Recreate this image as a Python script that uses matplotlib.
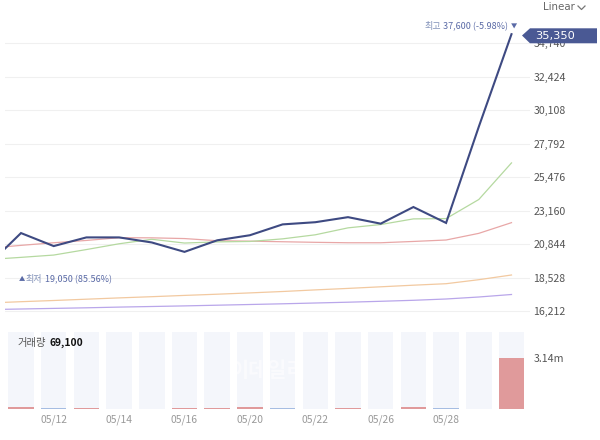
import matplotlib
matplotlib.use("Agg")
import matplotlib.pyplot as plt
from matplotlib.patches import Polygon

plt.rcParams['font.family'] = ['Noto Sans CJK KR', 'DejaVu Sans']

# ---------------- data ----------------
dates = ['05/08', '05/09', '05/12', '05/13', '05/14', '05/15', '05/16', '05/19', '05/20',
         '05/21', '05/22', '05/23', '05/26', '05/27', '05/28', '05/29', '05/30']
close = [19400, 21600, 20700, 21300, 21300, 20950, 20300, 21100, 21450,
         22200, 22350, 22700, 22250, 23400, 22300, 28950, 35350]
ma5 = [19770, 19920, 20080, 20460, 20860, 21170, 20910, 20990, 21020,
       21200, 21480, 21960, 22190, 22580, 22600, 23920, 26450]
ma20 = [20550, 20750, 20930, 21090, 21280, 21270, 21220, 21070, 21040,
        21000, 20960, 20930, 20930, 21020, 21120, 21580, 22320]
ma60 = [16765, 16855, 16938, 17028, 17118, 17201, 17290, 17373, 17463,
        17560, 17671, 17774, 17885, 17996, 18099, 18376, 18701]
ma120 = [16309, 16350, 16392, 16433, 16482, 16523, 16565, 16613, 16661,
         16710, 16765, 16820, 16883, 16952, 17042, 17180, 17353]
# volume for slots 1..16
volume = [170000, 100000, 80000, 40000, 40000, 80000, 80000, 120000,
          80000, 40000, 80000, 40000, 120000, 80000, 69100, 3140000]
vol_dir = ['up', 'down', 'up', 'down', 'down', 'up', 'up', 'up',
           'down', 'down', 'up', 'down', 'up', 'down', 'none', 'up']
price_ticks = [16212, 18528, 20844, 23160, 25476, 27792, 30108, 32424, 34740]
date_ticks = ['05/12', '05/14', '05/16', '05/20', '05/22', '05/26', '05/28']
last_price = '35,350'
high_text = '37,600 (-5.98%)'
low_text = '19,050 (85.56%)'
vol_text = '69,100'
vol_max_label = '3.14m'

W, H = 600, 440
fig = plt.figure(figsize=(W / 100, H / 100), dpi=100)


def rect(x0, y0, x1, y1):
    return [x0 / W, 1 - y1 / H, (x1 - x0) / W, (y1 - y0) / H]


def fx(x):
    return x / W


def fy(y):
    return 1 - y / H


slots = list(range(len(dates)))
xlim = (0.511, 16.566)

# ---------------- price panel ----------------
ax = fig.add_axes(rect(5, 20, 530, 320))
ppp = 2316 / 33.5
ax.set_ylim(16212 - 9 * ppp, 16212 + 291 * ppp)
ax.set_xlim(*xlim)
for t in price_ticks:
    ax.axhline(t, color='#f0f0f0', lw=0.8, zorder=0)
ax.plot(slots, ma120, color='#b9a6ea', lw=0.9, zorder=2)
ax.plot(slots, ma60, color='#f2c9a0', lw=0.9, zorder=2)
ax.plot(slots, ma20, color='#e8a7a7', lw=0.9, zorder=2)
ax.plot(slots, ma5, color='#b5d9a0', lw=0.9, zorder=2)
ax.plot(slots, close, color='#3e4a82', lw=1.5, zorder=3, solid_joinstyle='miter')
ax.yaxis.tick_right()
ax.set_yticks(price_ticks)
ax.set_yticklabels([f'{t:,}' for t in price_ticks])
ax.tick_params(axis='y', length=0, pad=2.5, labelsize=7.6, labelcolor='#555555')
ax.set_xticks([])
for s in ax.spines.values():
    s.set_visible(False)

# last price box
poly = Polygon([(fx(522), fy(35.5)), (fx(530), fy(28.3)), (fx(597), fy(28.3)),
                (fx(597), fy(43.3)), (fx(530), fy(43.3))], closed=True,
               transform=fig.transFigure, facecolor='#4a5994', edgecolor='none', zorder=10)
fig.patches.append(poly)
fig.text(fx(535), fy(35.8), last_price, color='white', fontsize=8.2, va='center',
         ha='left', zorder=11, family=['DejaVu Sans'])

# high / low annotations
fig.text(fx(425), fy(27), '최고', color='#8090b8', fontsize=6.5, va='center', ha='left')
fig.text(fx(443), fy(27), high_text, color='#5a6aa6', fontsize=6.5, va='center', ha='left')
fig.text(fx(514), fy(27), '▼', color='#5a6aa6', fontsize=4.5, va='center', ha='center')
fig.text(fx(22), fy(279.5), '▲', color='#5a6aa6', fontsize=4.5, va='center', ha='center')
fig.text(fx(26), fy(279.5), '최저', color='#8090b8', fontsize=6.5, va='center', ha='left')
fig.text(fx(45), fy(279.5), low_text, color='#5a6aa6', fontsize=6.5, va='center', ha='left')

# Linear selector
fig.text(fx(543), fy(7), 'Linear', color='#666666', fontsize=7.4, va='center', ha='left',
         family=['DejaVu Sans'])
fig.add_artist(plt.Line2D([fx(578), fx(581.5), fx(585)], [fy(6), fy(9.5), fy(6)],
                          color='#777777', lw=0.9, transform=fig.transFigure))

# ---------------- volume panel ----------------
vax = fig.add_axes(rect(5, 331.7, 530, 409.3))
vtop = 4.78e6
vax.set_ylim(0, vtop)
vax.set_xlim(*xlim)
vslots = slots[1:]
vax.bar(vslots, [vtop] * len(vslots), width=0.78, color='#f4f6fb', zorder=1)
cmap = {'up': '#e09a9b', 'down': '#a6bde2', 'none': '#f4f6fb'}
vax.bar(vslots, volume, width=0.78, color=[cmap[d] for d in vol_dir], zorder=2)
vax.text(0.5, 0.5, '이데일리', transform=vax.transAxes, color='white', alpha=0.55,
         fontsize=15, fontweight='bold', ha='center', va='center', zorder=3)
vax.set_xticks([dates.index(d) for d in date_ticks])
vax.set_xticklabels(date_ticks)
vax.tick_params(axis='x', length=0, pad=3.5, labelsize=7.4, labelcolor='#999999')
vax.yaxis.tick_right()
vax.set_yticks([3.14e6])
vax.set_yticklabels([vol_max_label])
vax.tick_params(axis='y', length=0, pad=2.5, labelsize=7.6, labelcolor='#555555')
for s in vax.spines.values():
    s.set_visible(False)
fig.text(fx(18), fy(342.5), '거래량', color='#555555', fontsize=7.4, va='center', ha='left')
fig.text(fx(50), fy(342.5), vol_text, color='#111111', fontsize=7.4, va='center', ha='left',
         fontweight='bold')

fig.savefig('out.png', dpi=100)
